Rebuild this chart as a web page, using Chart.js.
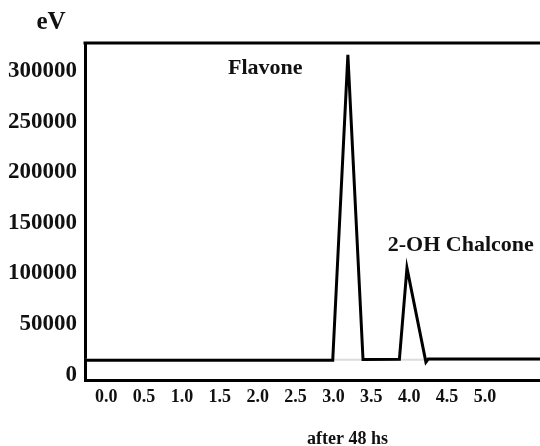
<!DOCTYPE html>
<html>
<head>
<meta charset="utf-8">
<script src="https://cdn.jsdelivr.net/npm/chart.js@4.4.1/dist/chart.umd.min.js"></script>
<style>
  html, body { margin: 0; padding: 0; background: #fff; overflow: hidden; }
  #wrap { width: 540px; height: 446px; overflow: hidden; }
  canvas { display: block; }
</style>
</head>
<body>
<div id="wrap"><canvas id="chart" width="610" height="446"></canvas></div>
<script>
// Chromatogram after 48 hs: retention time (min) vs detector signal (eV)
const retentionTime = [-0.28, 2.99, 3.19, 3.39, 3.87, 3.97, 4.22, 4.25, 6.65];
const signal        = [14300, 14300, 315800, 15000, 15200, 105500, 12500, 15500, 15500];

// faint baseline running under the peaks
const baselineTime   = [-0.28, 6.65];
const baselineSignal = [14800, 14800];

const xTicks = [0.0, 0.5, 1.0, 1.5, 2.0, 2.5, 3.0, 3.5, 4.0, 4.5, 5.0];
const yTicks = [0, 50000, 100000, 150000, 200000, 250000, 300000];

// peak names, anchored in data coordinates
const peakNames = ['Flavone', '2-OH Chalcone'];
const peakNameX = [2.1, 4.68];
const peakNameY = [303000, 127500];

const serif = "'Liberation Serif', 'Times New Roman', serif";

const toPoints = (xs, ys) => xs.map((x, i) => ({ x, y: ys[i] }));

const decorations = {
  id: 'decorations',
  afterDatasetsDraw(chart) {
    const { ctx, chartArea, scales } = chart;
    ctx.save();
    // top frame line
    ctx.strokeStyle = '#000';
    ctx.lineWidth = 3;
    ctx.beginPath();
    ctx.moveTo(chartArea.left - 1.5, chartArea.top);
    ctx.lineTo(chartArea.right, chartArea.top);
    ctx.stroke();

    ctx.fillStyle = '#111';
    ctx.textAlign = 'center';
    ctx.textBaseline = 'middle';
    ctx.font = `bold 22px ${serif}`;
    peakNames.forEach((name, i) => {
      ctx.fillText(name, scales.x.getPixelForValue(peakNameX[i]), scales.y.getPixelForValue(peakNameY[i]));
    });

    // unit label above the value axis
    ctx.font = `bold 25px ${serif}`;
    ctx.fillText('eV', chartArea.left - 34, chartArea.top - 20);
    ctx.restore();
  }
};

new Chart(document.getElementById('chart'), {
  type: 'line',
  data: {
    datasets: [
      {
        data: toPoints(retentionTime, signal),
        borderColor: '#000',
        borderWidth: 3,
        pointRadius: 0,
        tension: 0,
        fill: false,
        order: 0
      },
      {
        data: toPoints(baselineTime, baselineSignal),
        borderColor: '#dcdcdc',
        borderWidth: 2,
        pointRadius: 0,
        tension: 0,
        fill: false,
        order: 1
      }
    ]
  },
  options: {
    responsive: false,
    animation: false,
    layout: { padding: { top: 43, left: 0, right: 0, bottom: 0 } },
    plugins: { legend: { display: false }, tooltip: { enabled: false } },
    scales: {
      x: {
        type: 'linear',
        min: -0.28,
        max: 6.65,
        afterBuildTicks: (axis) => { axis.ticks = xTicks.map(v => ({ value: v })); },
        grid: { display: false, drawTicks: false },
        border: { display: true, color: '#000', width: 3 },
        ticks: {
          color: '#111',
          padding: 6,
          maxRotation: 0,
          autoSkip: false,
          font: { family: serif, size: 18, weight: 'bold' },
          callback: (v) => Number(v).toFixed(1)
        },
        title: {
          display: true,
          text: 'after 48 hs',
          color: '#111',
          padding: { top: 16, bottom: -2 },
          font: { family: serif, size: 18, weight: 'bold', lineHeight: 1.0 }
        }
      },
      y: {
        type: 'linear',
        min: -5600,
        max: 327600,
        afterBuildTicks: (axis) => { axis.ticks = yTicks.map(v => ({ value: v })); },
        grid: { display: false, drawTicks: false },
        border: { display: true, color: '#000', width: 3 },
        ticks: {
          color: '#111',
          padding: 8,
          font: { family: serif, size: 23, weight: 'bold' },
          callback: (v) => String(v)
        }
      }
    }
  },
  plugins: [decorations]
});
</script>
</body>
</html>
